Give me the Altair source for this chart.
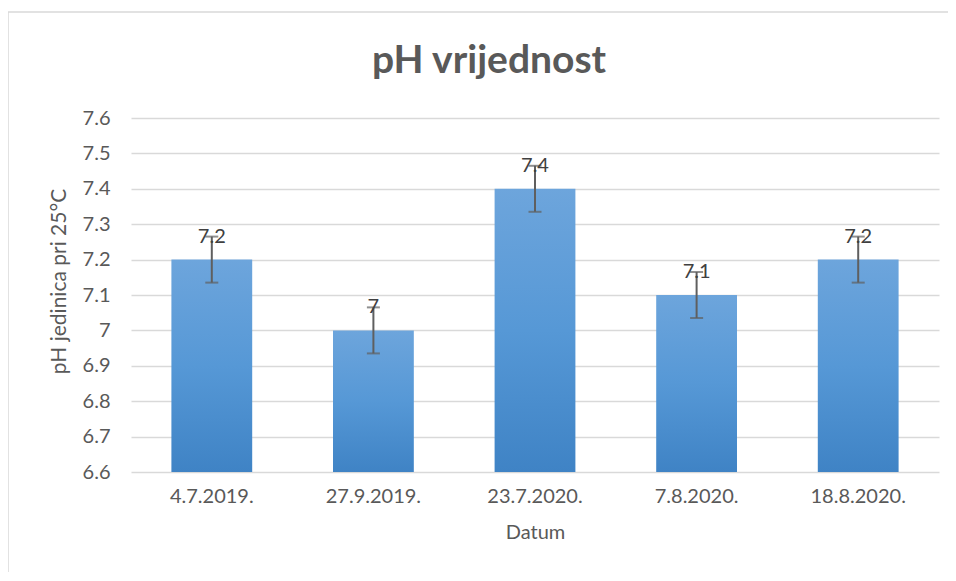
import altair as alt
import pandas as pd

dates = ["4.7.2019.", "27.9.2019.", "23.7.2020.", "7.8.2020.", "18.8.2020."]
ph_values = [7.2, 7.0, 7.4, 7.1, 7.2]
errors = [0.065, 0.065, 0.065, 0.065, 0.065]
y_ticks = [6.6, 6.7, 6.8, 6.9, 7.0, 7.1, 7.2, 7.3, 7.4, 7.5, 7.6]
chart_title = "pH vrijednost"

df = pd.DataFrame({"Datum": dates, "pH": ph_values, "err": errors})
df["lo"] = df["pH"] - df["err"]
df["hi"] = df["pH"] + df["err"]

W, H = 808, 354
FONT = "Lato"

x_axis = alt.Axis(title="Datum", labelAngle=0, ticks=False, domain=False,
                  labelFontSize=20, labelColor="#595959", labelPadding=14,
                  titleFontSize=20, titleColor="#595959", titlePadding=16,
                  titleFontWeight="normal", labelFont=FONT, titleFont=FONT)
x_scale = alt.Scale(paddingInner=0.5, paddingOuter=0.25)
y_axis = alt.Axis(title="pH jedinica pri 25°C", values=y_ticks, format="~g",
                  ticks=False, domain=False, grid=True, gridColor="#d9d9d9",
                  gridWidth=1.3, labelFontSize=20, labelColor="#595959",
                  labelPadding=21, labelOverlap=False, titleFontSize=21,
                  titleColor="#595959", titleFontWeight="normal", titlePadding=13,
                  titleY=163, labelFont=FONT, titleFont=FONT)
y_scale = alt.Scale(domain=[6.6, 7.6], nice=False, zero=False)


def X():
    return alt.X("Datum:N", sort=dates, scale=x_scale, axis=x_axis)


def Y(field):
    return alt.Y(field, scale=y_scale, axis=y_axis)


bars = alt.Chart(df).mark_bar(
    color=alt.Gradient(gradient="linear",
                       stops=[alt.GradientStop(color="#6da5dc", offset=0),
                              alt.GradientStop(color="#5698d6", offset=0.5),
                              alt.GradientStop(color="#3f83c5", offset=1)],
                       x1=0, x2=0, y1=0, y2=1)
).encode(x=X(), y=Y("pH:Q"), y2=alt.datum(6.6))

err_rule = alt.Chart(df).mark_rule(color="#5f5f5f", strokeWidth=2).encode(
    x=X(), y=Y("lo:Q"), y2="hi:Q")
cap_lo = alt.Chart(df).mark_tick(color="#5f5f5f", thickness=2, size=13, orient="horizontal").encode(
    x=X(), y=Y("lo:Q"))
cap_hi = alt.Chart(df).mark_tick(color="#5f5f5f", thickness=2, size=13, orient="horizontal").encode(
    x=X(), y=Y("hi:Q"))

labels = alt.Chart(df).mark_text(fontSize=20, color="#404040", baseline="alphabetic",
                                 dy=-17, font=FONT).encode(
    x=X(), y=Y("pH:Q"), text=alt.Text("pH:Q", format="~g"))

title_df = pd.DataFrame({"t": [chart_title]})
title = alt.Chart(title_df).mark_text(fontSize=39, fontWeight="bold", color="#595959",
                                      font=FONT, baseline="alphabetic", align="center").encode(
    x=alt.value(358), y=alt.value(-45), text="t:N")

border_top = alt.Chart(title_df).mark_rule(color="#d9d9d9", strokeWidth=1.5).encode(
    x=alt.value(-123), x2=alt.value(W + 20), y=alt.value(-106))
border_left = alt.Chart(title_df).mark_rule(color="#d9d9d9", strokeWidth=1.5).encode(
    x=alt.value(-123), y=alt.value(-106), y2=alt.value(H + 120))

chart = alt.layer(bars, err_rule, cap_lo, cap_hi, labels, title, border_top, border_left).properties(
    width=W, height=H,
    autosize=alt.AutoSizeParams(type="none"),
    padding={"left": 123, "top": 110, "right": 9, "bottom": 100},
).configure(background="white").configure_view(stroke=None)

chart.save("out.html", embed_options={"renderer": "svg", "actions": False})
